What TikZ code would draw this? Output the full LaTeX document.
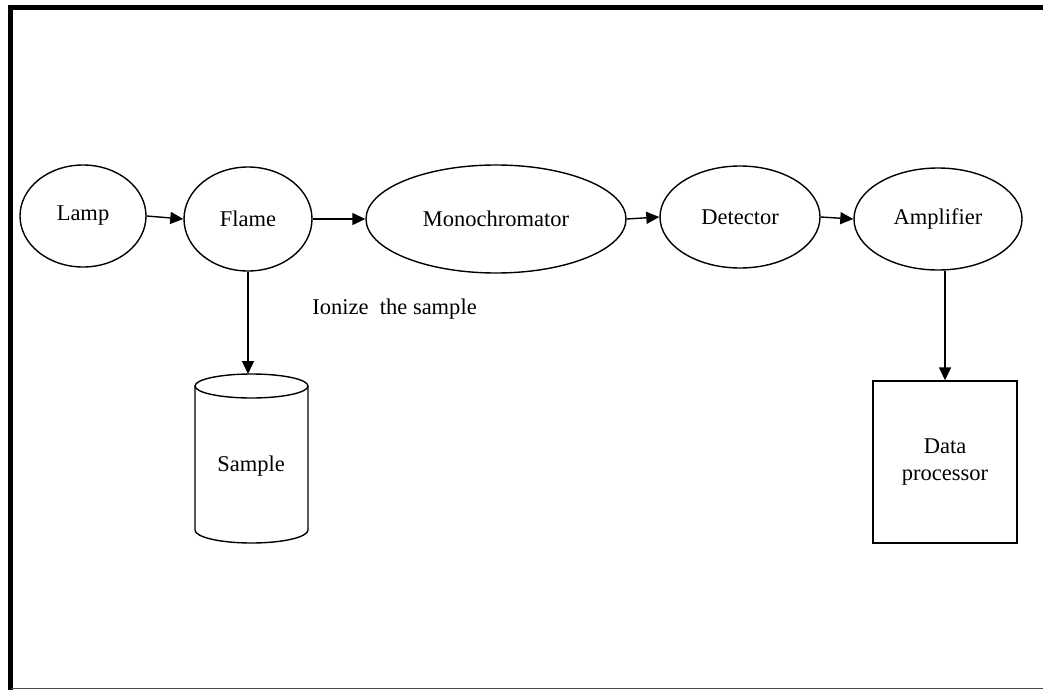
\documentclass[tikz,border=0pt]{standalone}
\usepackage{fontspec}
\setmainfont{Liberation Serif}
\usetikzlibrary{shapes.geometric,arrows.meta,calc}
\begin{document}
\begin{tikzpicture}[x=0.5pt,y=-0.5pt,
  every node/.style={font=\fontsize{11.25pt}{13.5pt}\selectfont},
  oval/.style={draw,ellipse,line width=0.7pt,inner sep=0pt},
  conn/.style={line width=0.7pt,-{Triangle[length=6.5pt,width=6pt]}}]
\useasboundingbox (0,0) rectangle (1043,690);
% frame
\draw[line width=2.5pt] (10.5,690) -- (10.5,7.5) -- (1043,7.5);
\draw[line width=0.8pt,black!70] (10.5,688.5) -- (1043,688.5);
% ovals (sizes in pt = half the pixel sizes)
\node[oval,minimum width=63pt,minimum height=51pt] (lamp) at (83,216) {Lamp};
\node[oval,minimum width=64pt,minimum height=52pt] (flame) at (248,219) {Flame};
\node[oval,minimum width=130pt,minimum height=54pt] (mono) at (496,219) {Monochromator};
\node[oval,minimum width=80pt,minimum height=51pt] (det) at (740,217) {Detector};
\node[oval,minimum width=84pt,minimum height=51pt] (amp) at (938,219) {Amplifier};
% arrows along the chain
\draw[conn] (lamp.east) -- (flame.west);
\draw[conn] (flame.east) -- (mono.west);
\draw[conn] (mono.east) -- (det.west);
\draw[conn] (det.east) -- (amp.west);
% label
\node[anchor=west,inner sep=0pt] (ionize) at (312,309) {Ionize\ \ the sample};
% sample cylinder
\draw[line width=0.7pt] (195,386) -- (195,530) arc[start angle=180,end angle=0,x radius=56.5,y radius=13] -- (308,386);
\draw[line width=0.7pt] (251.5,386) ellipse[x radius=56.5,y radius=12];
\node (sample) at (251,466) {Sample};
\coordinate (sampletop) at (248,374);
\draw[conn] (flame.south) -- (sampletop);
% data processor
\node[draw,line width=0.7pt,minimum width=72pt,minimum height=81pt,align=center,inner sep=0pt] (data) at (945,462) {Data\\processor};
\draw[conn] (data.north |- amp.south) -- (data.north);
\end{tikzpicture}
\end{document}
